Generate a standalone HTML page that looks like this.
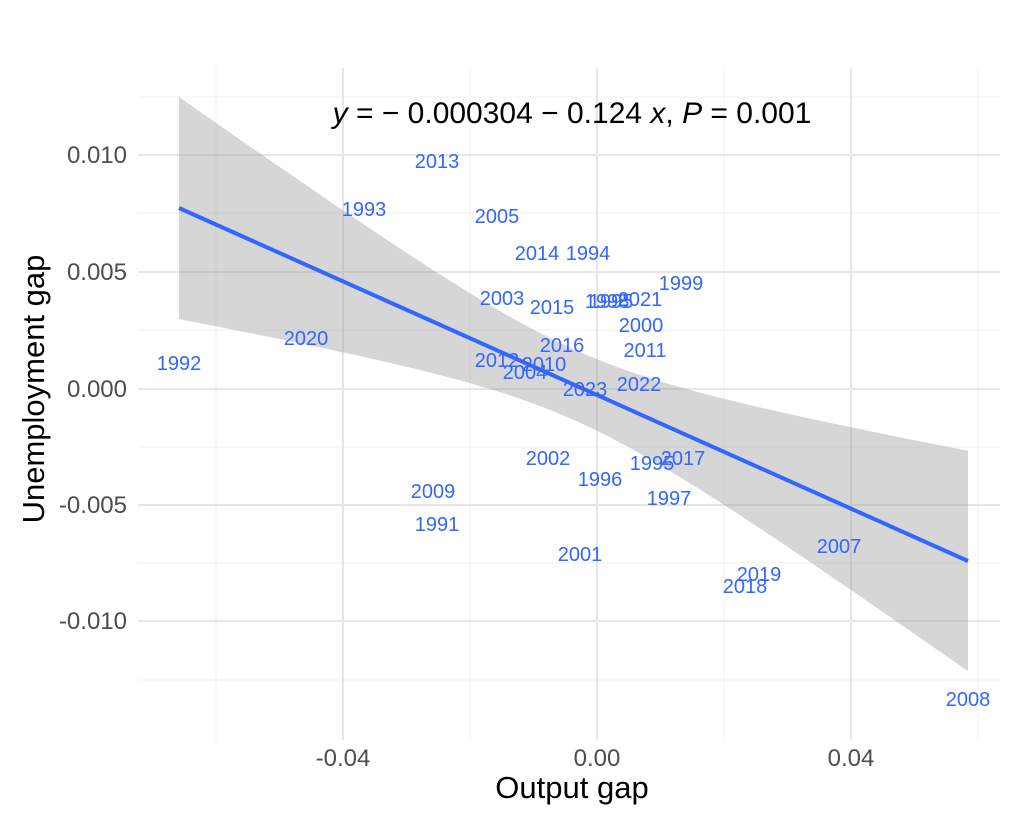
<!DOCTYPE html>
<html><head><style>body{margin:0;background:#fff}svg{display:block}</style></head><body>
<svg id="s" width="1024" height="819" xmlns="http://www.w3.org/2000/svg" font-family="Liberation Sans, sans-serif">
<g stroke="#f0f0f0" stroke-width="1">
<line x1="138" x2="1000" y1="97" y2="97"/><line x1="138" x2="1000" y1="213" y2="213"/><line x1="138" x2="1000" y1="330" y2="330"/><line x1="138" x2="1000" y1="447" y2="447"/><line x1="138" x2="1000" y1="563" y2="563"/><line x1="138" x2="1000" y1="680" y2="680"/>
<line y1="68" y2="740" x1="216" x2="216"/><line y1="68" y2="740" x1="470" x2="470"/><line y1="68" y2="740" x1="724" x2="724"/><line y1="68" y2="740" x1="978" x2="978"/>
</g>
<g stroke="#e6e6e6" stroke-width="2">
<line x1="138" x2="1000" y1="155" y2="155"/><line x1="138" x2="1000" y1="272" y2="272"/><line x1="138" x2="1000" y1="389" y2="389"/><line x1="138" x2="1000" y1="505" y2="505"/><line x1="138" x2="1000" y1="621" y2="621"/>
<line y1="68" y2="740" x1="343" x2="343"/><line y1="68" y2="740" x1="597" x2="597"/><line y1="68" y2="740" x1="851" x2="851"/>
</g>
<polygon id="band" fill="#999" fill-opacity="0.4"/>
<line x1="179" y1="208" x2="968" y2="561" stroke="#3366FF" stroke-width="4"/>
<g fill="#3366FF" font-size="20" text-anchor="middle">
<text x="179" y="370">1992</text><text x="306" y="345">2020</text><text x="364" y="216">1993</text><text x="437" y="168">2013</text><text x="433" y="498">2009</text><text x="437" y="531">1991</text><text x="497" y="223">2005</text><text x="502" y="305">2003</text><text x="497" y="367">2012</text><text x="544" y="371">2010</text><text x="525" y="379">2004</text><text x="537" y="260">2014</text><text x="588" y="260">1994</text><text x="552" y="314">2015</text><text x="562" y="352">2016</text><text x="585" y="396">2023</text><text x="548" y="465">2002</text><text x="600" y="486">1996</text><text x="580" y="561">2001</text><text x="607" y="308">1998</text><text x="611" y="308">1995</text><text x="640" y="306">2021</text><text x="641" y="332">2000</text><text x="645" y="357">2011</text><text x="639" y="391">2022</text><text x="681" y="290">1999</text><text x="652" y="470">1995</text><text x="683" y="465">2017</text><text x="669" y="505">1997</text><text x="839" y="553">2007</text><text x="759" y="581">2019</text><text x="745" y="593">2018</text><text x="968" y="706">2008</text>
</g>
<g fill="#4d4d4d" font-size="24">
<g text-anchor="end"><text x="127" y="163">0.010</text><text x="127" y="280">0.005</text><text x="127" y="397">0.000</text><text x="127" y="513">-0.005</text><text x="127" y="629">-0.010</text></g>
<g text-anchor="middle"><text x="343" y="766">-0.04</text><text x="597" y="766">0.00</text><text x="851" y="766">0.04</text></g>
</g>
<text x="572" y="798" font-size="31" text-anchor="middle">Output gap</text>
<text transform="translate(44,389) rotate(-90)" font-size="31" text-anchor="middle">Unemployment gap</text>
<text x="572" y="123" font-size="30" text-anchor="middle"><tspan font-style="italic">y</tspan> = − 0.000304 − 0.124 <tspan font-style="italic">x</tspan>, <tspan font-style="italic">P</tspan> = 0.001</text>
</svg>
<script>
var up=[],dn=[];
for(var x=179;x<=968;x+=8){var xx=Math.min(x,968);var y=208+(xx-179)*353/789;var d=xx-575;var h=Math.sqrt(1247+0.0706*d*d);up.push(xx+","+(y-h).toFixed(1));dn.unshift(xx+","+(y+h).toFixed(1));}
var y=561,d=393,h=Math.sqrt(1247+0.0706*d*d);up.push("968,"+(y-h).toFixed(1));dn.unshift("968,"+(y+h).toFixed(1));
document.getElementById("band").setAttribute("points",up.concat(dn).join(" "));
</script>
</body></html>
